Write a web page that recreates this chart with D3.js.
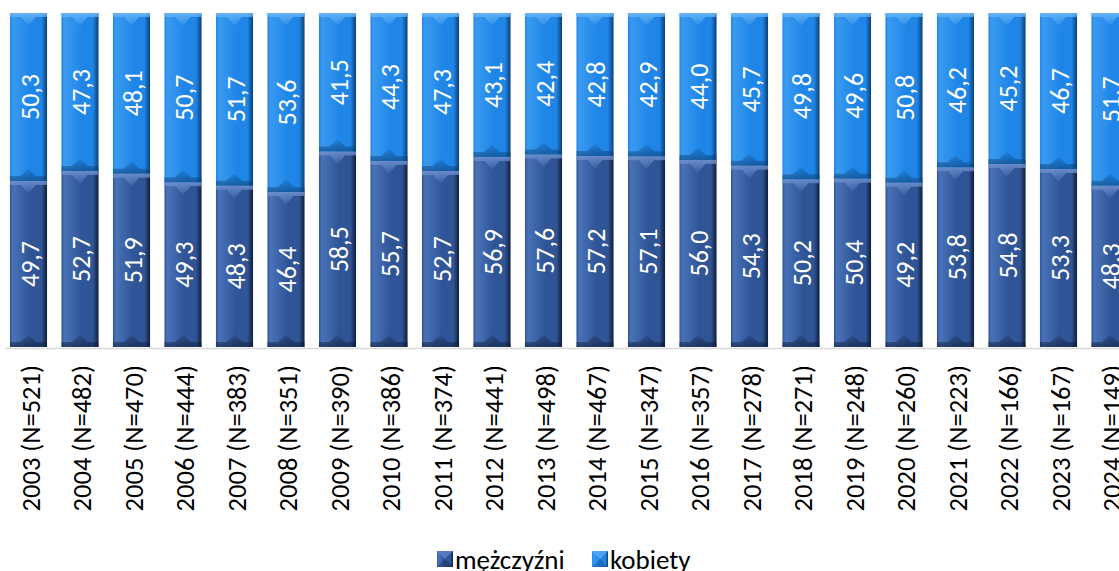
<!DOCTYPE html>
<html>
<head>
<meta charset="utf-8">
<script src="https://cdn.jsdelivr.net/npm/d3@7"></script>
<style>
  body { margin: 0; background: #fff; }
  svg text { font-family: Carlito, Lato, "Liberation Sans", sans-serif; }
</style>
</head>
<body>
<div id="chart"></div>
<script>
var years = ["2003","2004","2005","2006","2007","2008","2009","2010","2011","2012","2013",
             "2014","2015","2016","2017","2018","2019","2020","2021","2022","2023","2024"];
var counts = [521,482,470,444,383,351,390,386,374,441,498,467,347,357,278,271,248,260,223,166,167,149];
var men = [49.7,52.7,51.9,49.3,48.3,46.4,58.5,55.7,52.7,56.9,57.6,57.2,57.1,56.0,54.3,50.2,50.4,49.2,53.8,54.8,53.3,48.3];
var women = [50.3,47.3,48.1,50.7,51.7,53.6,41.5,44.3,47.3,43.1,42.4,42.8,42.9,44.0,45.7,49.8,49.6,50.8,46.2,45.2,46.7,51.7];
var seriesNames = ["mężczyźni","kobiety"];

var width = 1119, height = 571;
var plotTop = 13, baseY = 347;

var svg = d3.select("#chart").append("svg")
    .attr("width", width)
    .attr("height", height);

var defs = svg.append("defs");

// colour schemes: base, light, dark edge
var schemes = [
    { id: "men", base: "#2f5597", light: "#4a72b8", hi: "#6f90cf", dark: "#0f1d38" },
    { id: "women", base: "#1f86e8", light: "#3a9af0", hi: "#6cb6f7", dark: "#0c3f73" }
];

schemes.forEach(function(s){
    var g = defs.append("linearGradient").attr("id", "side-" + s.id)
        .attr("x1", "0").attr("x2", "1").attr("y1", "0").attr("y2", "0");
    g.append("stop").attr("offset", "0%").attr("stop-color", s.base);
    g.append("stop").attr("offset", "8%").attr("stop-color", s.light);
    g.append("stop").attr("offset", "55%").attr("stop-color", s.base);
    g.append("stop").attr("offset", "85%").attr("stop-color", s.base);
    g.append("stop").attr("offset", "100%").attr("stop-color", s.dark);

    var t = defs.append("linearGradient").attr("id", "top-" + s.id)
        .attr("x1", "0").attr("x2", "0").attr("y1", "0").attr("y2", "1");
    t.append("stop").attr("offset", "0%").attr("stop-color", s.hi).attr("stop-opacity", 0.9);
    t.append("stop").attr("offset", "100%").attr("stop-color", s.hi).attr("stop-opacity", 0.1);

    var b = defs.append("linearGradient").attr("id", "bot-" + s.id)
        .attr("x1", "0").attr("x2", "0").attr("y1", "0").attr("y2", "1");
    b.append("stop").attr("offset", "0%").attr("stop-color", s.dark).attr("stop-opacity", 0.15);
    b.append("stop").attr("offset", "100%").attr("stop-color", s.dark).attr("stop-opacity", 0.6);
});

var step = 51.5;
var x = d3.scaleBand()
    .domain(years)
    .range([2.75, 2.75 + step * years.length])
    .paddingInner(0.28)
    .paddingOuter(0.14);

var y = d3.scaleLinear().domain([0, 100]).range([baseY, plotTop]);

// build stacked data
var rows = years.map(function(yr, i){
    return { year: yr, n: counts[i], men: men[i], women: women[i] };
});
var stack = d3.stack().keys(["men", "women"]);
var layers = stack(rows);

// axis baseline
svg.append("line")
    .attr("x1", 5).attr("x2", width)
    .attr("y1", baseY + 1.5).attr("y2", baseY + 1.5)
    .attr("stroke", "#d9d9d9").attr("stroke-width", 1.5);

function pts(arr){
    return arr.map(function(p){ return p.join(","); }).join(" ");
}

layers.forEach(function(layer, li){
    var s = schemes[li];
    var g = svg.append("g").attr("class", "series-" + s.id);
    var bars = g.selectAll("g.seg").data(layer).enter().append("g").attr("class", "seg");

    bars.each(function(d){
        var el = d3.select(this);
        var bx = x(d.data.year), bw = x.bandwidth();
        var y0 = y(d[1]), y1 = y(d[0]);
        var h = y1 - y0;

        el.append("rect")
            .attr("x", bx).attr("y", y0)
            .attr("width", bw).attr("height", h)
            .attr("fill", "url(#side-" + s.id + ")");

        // top bevel: light strip with downward V
        el.append("polygon")
            .attr("points", pts([
                [bx, y0], [bx + bw, y0], [bx + bw, y0 + 4],
                [bx + bw * 0.7, y0 + 4], [bx + bw / 2, y0 + 13], [bx + bw * 0.3, y0 + 4],
                [bx, y0 + 4]
            ]))
            .attr("fill", "url(#top-" + s.id + ")");

        // bottom bevel: darker band with upward V
        el.append("polygon")
            .attr("points", pts([
                [bx, y1], [bx + bw, y1], [bx + bw, y1 - 5],
                [bx + bw * 0.72, y1 - 5], [bx + bw / 2, y1 - 12], [bx + bw * 0.28, y1 - 5],
                [bx, y1 - 5]
            ]))
            .attr("fill", "url(#bot-" + s.id + ")");

        var cx = bx + bw / 2, cy = (y0 + y1) / 2;
        el.append("text")
            .attr("transform", "translate(" + (cx + 1) + "," + cy + ") rotate(-90)")
            .attr("text-anchor", "middle")
            .attr("dominant-baseline", "central")
            .attr("fill", "#fff")
            .style("font-size", "26px")
            .text(d3.format(".1f")(d[1] - d[0]).replace(".", ","));
    });
});

// category labels
svg.append("g").selectAll("text").data(rows).enter().append("text")
    .attr("transform", function(d){
        return "translate(" + (x(d.year) + x.bandwidth() / 2 + 2) + "," + 365 + ") rotate(-90)";
    })
    .attr("text-anchor", "end")
    .attr("dominant-baseline", "central")
    .attr("fill", "#000")
    .style("font-size", "26.5px")
    .text(function(d){ return d.year + " (N=" + d.n + ")"; });

// legend
var legend = svg.append("g").attr("class", "legend");
var legendX = [437, 592];
seriesNames.forEach(function(name, i){
    var s = schemes[i];
    var lg = legend.append("g").attr("transform", "translate(" + legendX[i] + ",551)");
    lg.append("rect").attr("width", 16).attr("height", 16).attr("fill", "url(#side-" + s.id + ")");
    lg.append("polygon").attr("points", "0,0 16,0 8,8").attr("fill", s.hi).attr("opacity", 0.6);
    lg.append("polygon").attr("points", "0,16 16,16 8,8").attr("fill", s.dark).attr("opacity", 0.35);
    lg.append("text").attr("x", 18).attr("y", 8)
        .attr("dominant-baseline", "central")
        .style("font-size", "27px")
        .attr("fill", "#000")
        .text(name);
});
</script>
</body>
</html>
